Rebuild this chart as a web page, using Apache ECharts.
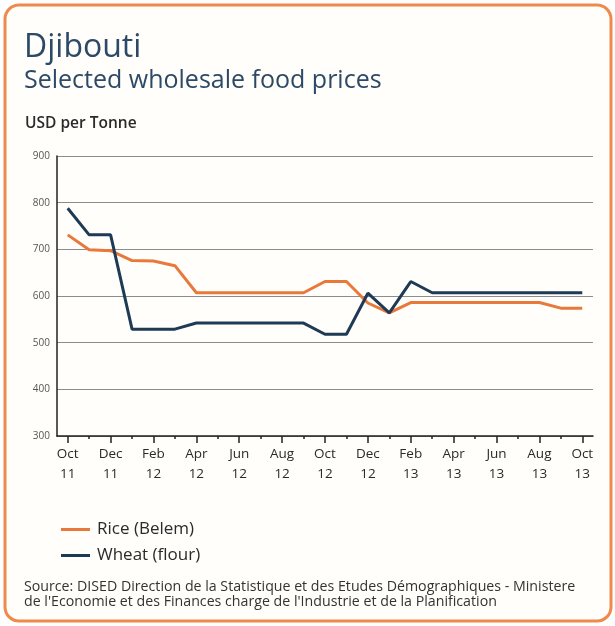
<!DOCTYPE html>
<html>
<head>
<meta charset="utf-8">
<script src="https://cdn.jsdelivr.net/npm/echarts@6/dist/echarts.min.js"></script>
<style>
  html, body { margin: 0; padding: 0; background: #ffffff; }
  #chart { width: 615px; height: 626px; }
</style>
</head>
<body>
<div id="chart"></div>
<script>
// Monthly categories, Oct 2011 – Oct 2013
const months = ['Oct\n11','Nov\n11','Dec\n11','Jan\n12','Feb\n12','Mar\n12','Apr\n12','May\n12','Jun\n12','Jul\n12','Aug\n12','Sep\n12',
                'Oct\n12','Nov\n12','Dec\n12','Jan\n13','Feb\n13','Mar\n13','Apr\n13','May\n13','Jun\n13','Jul\n13','Aug\n13','Sep\n13','Oct\n13'];

// Wholesale prices, USD per tonne
const rice  = [731, 699, 697, 676, 675, 665, 607, 607, 607, 607, 607, 607, 631, 631, 585, 564, 586, 586, 586, 586, 586, 586, 586, 574, 574];
const wheat = [788, 731, 731, 529, 529, 529, 542, 542, 542, 542, 542, 542, 518, 518, 606, 564, 631, 607, 607, 607, 607, 607, 607, 607, 607];

const yTicks = { min: 300, max: 900, interval: 100 };

const ORANGE = '#e8793a';
const NAVY = '#1f3a55';
const TEXT = '#2a2a2a';

const chart = echarts.init(document.getElementById('chart'), null, { renderer: 'canvas' });

chart.setOption({
  backgroundColor: '#ffffff',
  animation: false,
  textStyle: { fontFamily: 'Open Sans' },
  graphic: [
    {
      type: 'rect', z: -1,
      shape: { x: 5, y: 5, width: 606, height: 616, r: 14 },
      style: { fill: '#fffefb', stroke: '#f0894c', lineWidth: 3 }
    },
    {
      type: 'text', left: 24, top: 32,
      style: { text: 'Djibouti', font: '400 32px "Open Sans"', fill: '#2c4a68' }
    },
    {
      type: 'text', left: 24, top: 68,
      style: { text: 'Selected wholesale food prices', font: '400 25px "Open Sans"', fill: '#2c4a68' }
    },
    {
      type: 'text', left: 25, top: 116,
      style: { text: 'USD per Tonne', font: '600 15.5px "Open Sans"', fill: TEXT }
    },
    {
      type: 'text', left: 24, top: 579,
      style: {
        text: 'Source: DISED Direction de la Statistique et des Etudes Démographiques - Ministere\nde l\'Economie et des Finances charge de l\'Industrie et de la Planification',
        font: '400 14.2px "Open Sans"', fill: '#333333', lineHeight: 15
      }
    }
  ],
  legend: {
    orient: 'vertical',
    left: 56, top: 516,
    itemWidth: 29, itemHeight: 3, itemGap: 9,
    icon: 'rect',
    textStyle: { fontSize: 17, color: TEXT, fontFamily: 'Open Sans', padding: [0, 0, 0, 2] },
    data: ['Rice (Belem)', 'Wheat (flour)']
  },
  grid: { left: 57, top: 156, right: 22, bottom: 190, containLabel: false },
  xAxis: [
    {
      type: 'category',
      data: months,
      boundaryGap: true,
      axisLine: { lineStyle: { color: '#222', width: 1.5 } },
      axisTick: { show: true, alignWithLabel: true, interval: 1, length: 7, lineStyle: { color: '#222', width: 1.5 } },
      axisLabel: { interval: 1, color: TEXT, fontSize: 13.5, lineHeight: 20, margin: 8, fontFamily: 'Open Sans' }
    },
    {
      type: 'category',
      data: months,
      position: 'bottom',
      boundaryGap: true,
      axisLine: { show: false },
      axisTick: { show: true, alignWithLabel: true, interval: 0, length: 3, lineStyle: { color: '#222', width: 1.5 } },
      axisLabel: { show: false }
    }
  ],
  yAxis: {
    type: 'value',
    min: yTicks.min, max: yTicks.max, interval: yTicks.interval,
    axisLine: { show: true, lineStyle: { color: '#222', width: 1.5 } },
    axisTick: { show: false },
    axisLabel: { color: '#555', fontSize: 10, margin: 7, fontFamily: 'Open Sans' },
    splitLine: { lineStyle: { color: '#8c8c8c', width: 1 } }
  },
  series: [
    {
      name: 'Rice (Belem)', type: 'line', data: rice,
      symbol: 'none', lineStyle: { color: ORANGE, width: 3 }, itemStyle: { color: ORANGE }, z: 3
    },
    {
      name: 'Wheat (flour)', type: 'line', data: wheat,
      symbol: 'none', lineStyle: { color: NAVY, width: 3 }, itemStyle: { color: NAVY }, z: 4
    }
  ]
});
</script>
</body>
</html>
